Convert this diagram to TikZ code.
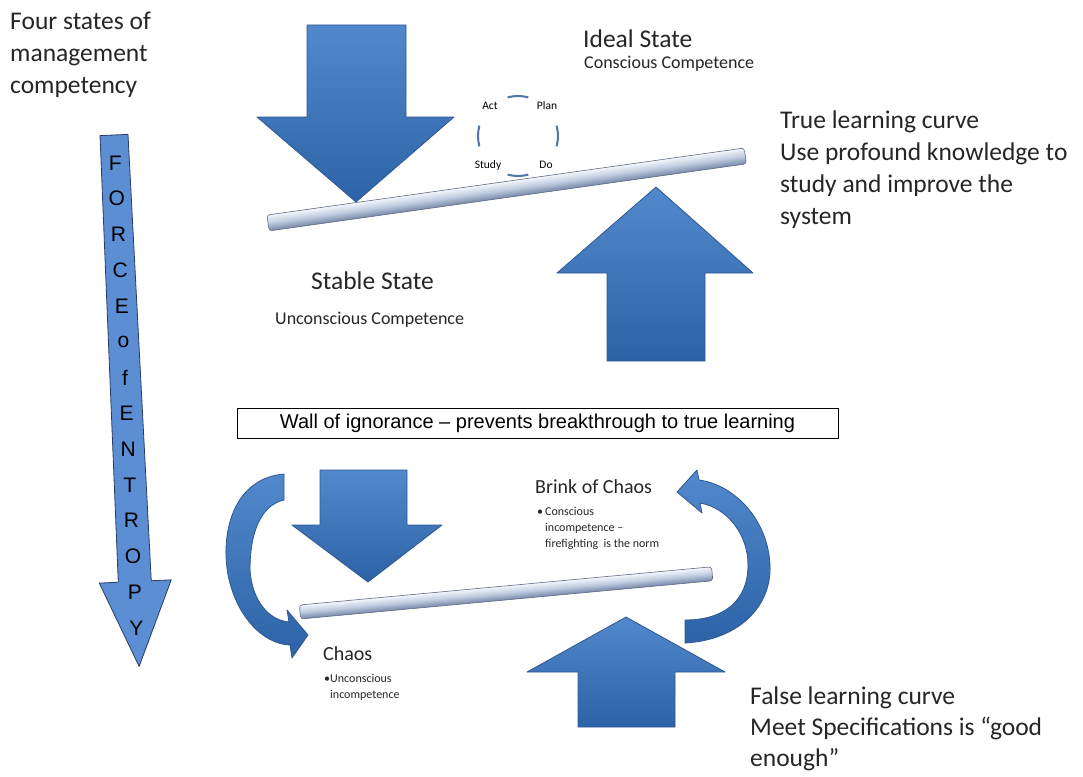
\documentclass[tikz,border=0pt]{standalone}
\usepackage{fontspec}
\setmainfont{Carlito}
\newfontfamily\arialfont{Liberation Sans}
\usetikzlibrary{positioning}
\definecolor{arrowtop}{RGB}{82,136,204}
\definecolor{arrowbot}{RGB}{44,98,166}
\definecolor{arrowedge}{RGB}{48,88,146}
\definecolor{forceblue}{RGB}{92,142,212}
\definecolor{forceedge}{RGB}{40,60,100}
\definecolor{barlight}{RGB}{244,247,252}
\definecolor{barmid}{RGB}{190,203,223}
\definecolor{bardark}{RGB}{118,134,166}
\definecolor{pdcablue}{RGB}{78,118,172}
\definecolor{textgray}{RGB}{38,38,38}

\tikzset{
  blockarrow/.style={top color=arrowtop, bottom color=arrowbot, draw=arrowedge, line width=0.8pt, line join=round},
  barshade/.style={top color=barlight, bottom color=bardark, middle color=barmid, draw=bardark!80!black, line width=0.6pt, rounded corners=3pt},
  bigtext/.style={anchor=north west, inner sep=0pt, align=left, text=textgray, font=\fontsize{25.5}{32}\selectfont},
  midtext/.style={anchor=north west, inner sep=0pt, align=left, text=textgray, font=\fontsize{18}{22}\selectfont},
  chaostext/.style={anchor=north west, inner sep=0pt, align=left, text=textgray, font=\fontsize{20}{24}\selectfont},
  smalltext/.style={anchor=north west, inner sep=0pt, align=left, text=textgray, font=\fontsize{12}{16}\selectfont},
  pdcatext/.style={inner sep=0pt, text=black, font=\fontsize{11.5}{12}\selectfont},
  forceletter/.style={inner sep=0pt, text=black, font=\arialfont\fontsize{21}{21}\selectfont},
  wallbox/.style={draw=black, line width=0.8pt, fill=white, inner sep=0pt, minimum width=601pt, minimum height=30pt, font=\arialfont\fontsize{20}{20}\selectfont}
}

\begin{document}
\begin{tikzpicture}[x=1pt,y=-1pt]
  \useasboundingbox (0,0) rectangle (1083,776);
  \fill[white] (0,0) rectangle (1083,776);

  % upper half: ideal and stable state
  \shade[blockarrow] (307,25) -- (406,25) -- (406,117) -- (454,117) -- (356,202)
    -- (257,117) -- (307,117) -- cycle;
  \begin{scope}[transform canvas={shift={(268,223)},rotate=8}]
    \shade[barshade] (0,-8) rectangle (482,8);
  \end{scope}
  \shade[blockarrow] (656,187) -- (753,273) -- (705,273) -- (705,361) -- (607,361)
    -- (607,273) -- (557,273) -- cycle;

  % PDCA cycle
  \coordinate (pdca) at (518,136);
  \foreach \a in {0,90,180,270}
    \draw[pdcablue, line width=2pt] (pdca) ++(\a-15:40) arc[start angle=\a-15, end angle=\a+15, radius=40];
  \node[pdcatext] (act) at (490,106) {Act};
  \node[pdcatext] (plan) at (547,106) {Plan};
  \node[pdcatext] (study) at (488,165) {Study};
  \node[pdcatext] (do) at (546,165) {Do};

  \node[bigtext] (title) at (10,12) {Four states of\\management\\competency};
  \node[bigtext] (ideal) at (583,30) {Ideal State};
  \node[midtext] (idealsub) at (584,56) {Conscious Competence};
  \node[bigtext] (truecurve) at (780,111) {True learning curve\\Use profound  knowledge to\\study and improve the\\system};
  \node[bigtext] (stable) at (311,272) {Stable State};
  \node[midtext] (stablesub) at (275,312) {Unconscious Competence};

  % force of entropy
  \begin{scope}[shift={(114,135)}, rotate=2.6]
    \draw[fill=forceblue, draw=forceedge, line width=0.8pt, line join=round]
      (-14,0) -- (14,0) -- (17,447) -- (37,447) -- (1,532) -- (-35,447) -- (-16,447) -- cycle;
    \foreach \l [count=\i from 0] in {F,O,R,C,E,o,f,E,N,T,R,O,P,Y}
      \node[forceletter] (force\i) at (0,{28+35.8*\i}) {\l};
  \end{scope}

  \node[wallbox] (wall) at (537.5,423) {Wall of ignorance – prevents breakthrough to true learning};

  % lower half: chaos and brink of chaos
  \shade[blockarrow] (320,470) -- (407,470) -- (407,525) -- (442,525) -- (368,582)
    -- (292,525) -- (320,525) -- cycle;
  \begin{scope}[transform canvas={shift={(300,612)},rotate=5.3}]
    \shade[barshade] (0,-7) rectangle (414,7);
  \end{scope}
  \shade[blockarrow] (626,617) -- (725,672) -- (675,672) -- (675,727) -- (578,727)
    -- (578,672) -- (527,672) -- cycle;

  \shade[blockarrow] (284,474) .. controls (235,478) and (220,530) .. (228,575)
    .. controls (236,615) and (262,644) .. (290,645) -- (292,658) -- (308,635)
    -- (287,610) -- (289,622) .. controls (268,620) and (252,600) .. (250,570)
    .. controls (250,530) and (262,505) .. (284,500) -- cycle;
  \shade[blockarrow] (685,643) .. controls (740,640) and (772,605) .. (770,565)
    .. controls (768,520) and (735,485) .. (699,480) -- (697,470) -- (677,492)
    -- (702,513) -- (700,503) .. controls (728,508) and (748,535) .. (748,565)
    .. controls (748,600) and (725,620) .. (685,620) -- cycle;

  \node[chaostext] (brink) at (535,479) {Brink of Chaos};
  \node[smalltext] (brinknote) at (545,507) {\llap{•\,}Conscious\\incompetence –\\firefighting\ \ is the norm};
  \node[chaostext] (chaos) at (323,646) {Chaos};
  \node[smalltext] (chaosnote) at (330,674) {\llap{•}Unconscious\\incompetence};
  \node[bigtext, font=\fontsize{25.5}{31}\selectfont] (falsecurve) at (750,687) {False learning curve\\Meet Specifications is “good\\enough”};
\end{tikzpicture}
\end{document}
